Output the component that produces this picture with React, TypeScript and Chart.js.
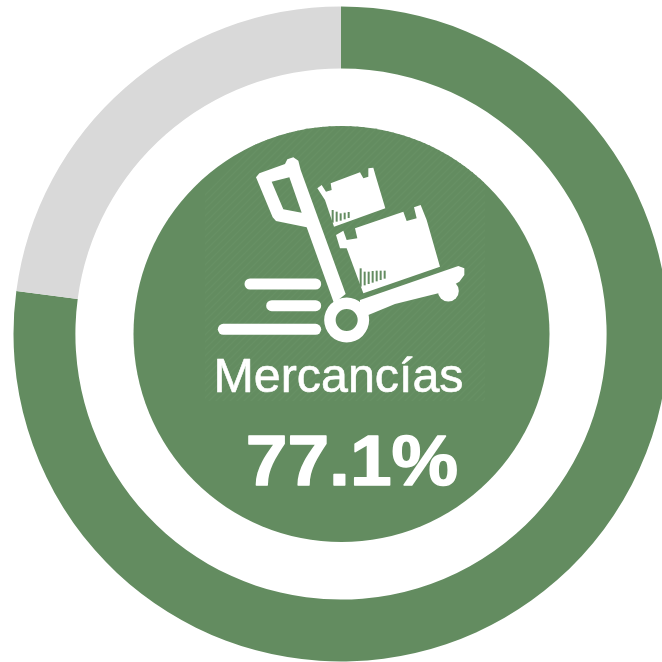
import React, { useEffect, useRef } from "react";
import { Chart, registerables } from "chart.js";

Chart.register(...registerables);

const categories = ["Mercancías", "Resto"];
const seriesValues = [77.1, 22.9];
const sliceColors = ["#638c60", "#d9d9d9"];
const titleLabel = "Mercancías";
const valueLabel = "77.1%";

const GREEN = "#638c60";
const STRIPE = "#679064";

// icon outlines, in pixels of a 280x220 box magnified 3x, placed at (200,140)
const handleOuter = [[168,112],[178,100],[255,72],[262,58],[280,52],[295,62],[302,90],[437,462],[402,490],[320,262],[228,243],[218,232]];
const handleHole = [[215,125],[268,112],[305,218],[250,208]];
const platform = [[480,480],[775,378],[793,385],[793,405],[778,425],[715,460],[585,492],[505,525],[480,510]];
const boxTop = [[352,145],[365,135],[378,155],[395,150],[392,130],[480,97],[490,115],[505,110],[505,85],[520,83],[527,108],[556,205],[402,260],[375,180]];
const boxBottom = [[408,285],[430,272],[440,300],[472,295],[465,265],[610,215],[620,243],[650,235],[642,202],[662,195],[680,240],[720,380],[490,460],[440,325],[420,325]];
const tagTop = [[398,210,398,248],[410,215,410,245],[422,220,422,242],[434,218,434,238],[446,216,446,234]];
const tagBottom = [[482,385,482,440],[494,395,494,436],[506,395,506,432],[518,393,518,428],[530,392,530,424],[542,392,542,420],[554,392,554,416]];
const speedLines = [[135,362,432],[200,362,497],[55,362,568]];

const drawCenter = {
  id: "centerDisc",
  afterDatasetsDraw(chart: any) {
    const { ctx } = chart;
    const arc = chart.getDatasetMeta(0).data[0];
    const cx = arc.x + 0.5;
    const cy = arc.y;
    const r = 208;

    ctx.save();
    ctx.fillStyle = GREEN;
    ctx.beginPath();
    ctx.arc(cx, cy, r, 0, Math.PI * 2);
    ctx.fill();
    ctx.clip();

    // faint diagonal hatch behind the icon
    ctx.strokeStyle = STRIPE;
    ctx.lineWidth = 1.5;
    ctx.beginPath();
    ctx.rect(205, 126, 280, 275);
    ctx.clip();
    ctx.beginPath();
    for (let s = 300; s < 950; s += 7) {
      ctx.moveTo(s, 100);
      ctx.lineTo(s - 330, 430);
    }
    ctx.stroke();
    ctx.restore();

    const X = (v: number) => 200 + v / 3;
    const Y = (v: number) => 140 + v / 3;
    const path = (pts: number[][]) => {
      pts.forEach(([x, y], i) => (i ? ctx.lineTo(X(x), Y(y)) : ctx.moveTo(X(x), Y(y))));
      ctx.closePath();
    };

    ctx.save();
    ctx.fillStyle = "#ffffff";
    ctx.strokeStyle = "#ffffff";
    ctx.lineJoin = "round";
    ctx.lineCap = "round";

    ctx.beginPath();
    path(handleOuter);
    path(handleHole);
    ctx.fill("evenodd");

    ctx.beginPath();
    path(platform);
    ctx.fill();

    // platform foot
    ctx.beginPath();
    ctx.arc(X(745), Y(453), 10.5, 0, Math.PI * 2);
    ctx.fill();

    ctx.beginPath();
    path(boxTop);
    ctx.fill();
    ctx.beginPath();
    path(boxBottom);
    ctx.fill();

    // small printed marks on the boxes
    ctx.strokeStyle = GREEN;
    ctx.lineWidth = 2;
    ctx.lineCap = "butt";
    [...tagTop, ...tagBottom].forEach(([x0, y0, x1, y1]) => {
      ctx.beginPath();
      ctx.moveTo(X(x0), Y(y0));
      ctx.lineTo(X(x1), Y(y1));
      ctx.stroke();
    });
    ctx.strokeStyle = "#ffffff";
    ctx.lineCap = "round";

    // wheel
    ctx.beginPath();
    ctx.arc(X(440), Y(540), 22.5, 0, Math.PI * 2);
    ctx.moveTo(X(440) + 11, Y(540));
    ctx.arc(X(440), Y(540), 11, 0, Math.PI * 2);
    ctx.fill("evenodd");

    ctx.lineWidth = 11;
    speedLines.forEach(([x0, x1, y]) => {
      ctx.beginPath();
      ctx.moveTo(X(x0) + 5, Y(y));
      ctx.lineTo(X(x1) - 5, Y(y));
      ctx.stroke();
    });
    ctx.restore();

    ctx.save();
    ctx.fillStyle = "#ffffff";
    ctx.strokeStyle = "#ffffff";
    ctx.lineJoin = "round";
    ctx.textAlign = "center";
    ctx.textBaseline = "alphabetic";
    ctx.font = '48.4px "Liberation Sans", Arial, sans-serif';
    ctx.lineWidth = 0.6;
    ctx.fillText(titleLabel, 338.5, 392);
    ctx.strokeText(titleLabel, 338.5, 392);
    ctx.translate(352, 485);
    ctx.scale(1.07, 1);
    ctx.font = 'bold 70px "Liberation Sans", Arial, sans-serif';
    ctx.lineWidth = 1.4;
    ctx.fillText(valueLabel, 0, 0);
    ctx.strokeText(valueLabel, 0, 0);
    ctx.restore();
  },
};

export default function App() {
  const ref = useRef<HTMLCanvasElement>(null);
  useEffect(() => {
    const chart = new Chart(ref.current as HTMLCanvasElement, {
      type: "doughnut",
      data: {
        labels: categories,
        datasets: [{ data: seriesValues, backgroundColor: sliceColors, borderWidth: 0 }],
      },
      options: {
        responsive: false,
        animation: false,
        radius: 327.5,
        cutout: "81.1%",
        plugins: { legend: { display: false }, tooltip: { enabled: false } },
      } as any,
      plugins: [drawCenter],
    });
    return () => chart.destroy();
  }, []);
  return (
    <div style={{ position: "absolute", left: 0, top: 0, width: 662, height: 662, overflow: "hidden" }}>
      <canvas ref={ref} width={682} height={668} style={{ display: "block", width: 682, height: 668 }} />
    </div>
  );
}
